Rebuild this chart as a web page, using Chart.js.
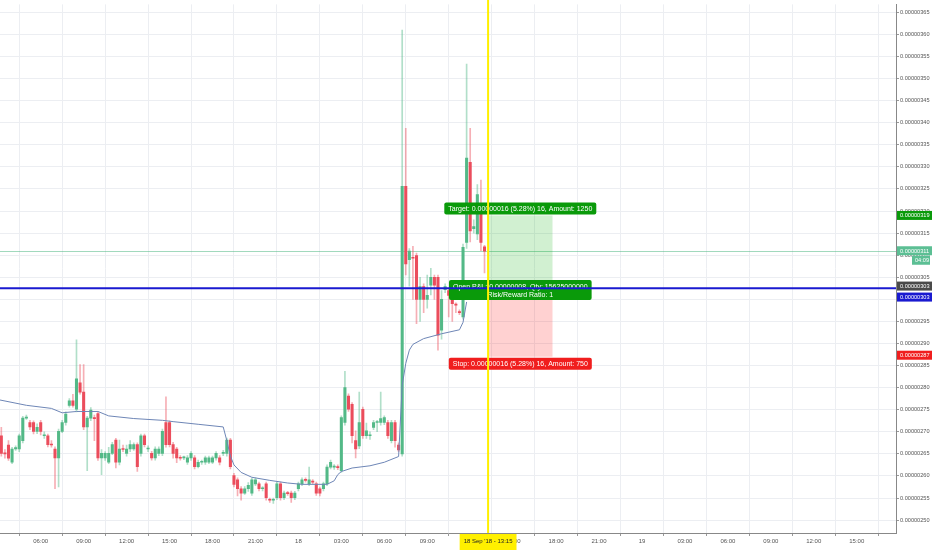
<!DOCTYPE html>
<html>
<head>
<meta charset="utf-8">
<script src="https://cdn.jsdelivr.net/npm/chart.js@4.4.0/dist/chart.umd.min.js"></script>
<style>
  html, body { margin: 0; padding: 0; background: #fff; }
</style>
</head>
<body>
<canvas id="grafico" width="932" height="550"></canvas>
<script>
// 15 min bars, bar index 0 = 17 Sep 00:00, prices in units of 0.00000001
const firstBar = 13;

const opens = [
  269.1,265.1,267.0,263.1,266.1,266.1,268.0,273.1,272.1,272.1,
  270.1,272.1,269.1,269.1,267.1,266.1,264.1,270.1,272.1,276.0,
  277.0,275.1,281.1,279.0,271.1,273.1,273.1,274.1,264.1,264.1,
  263.1,265.1,268.1,263.1,266.1,265.1,266.1,266.1,267.1,265.1,
  269.1,266.1,265.1,264.1,265.1,265.1,272.1,272.1,267.1,266.1,
  264.1,264.1,263.1,264.1,264.1,262.1,263.1,263.1,263.1,263.1,
  264.1,264.1,265.1,265.1,268.1,260.1,259.1,257.1,256.1,257.1,
  256.1,258.2,258.2,257.1,258.2,254.6,254.5,255.1,258.2,255.1,
  256.1,256.1,255.1,257.1,258.2,259.1,258.2,258.7,258.2,257.1,
  257.1,258.2,262.0,262.0,262.0,261.2,272.1,278.1,276.2,268.0,
  266.8,275.1,269.1,269.1,271.0,272.1,272.1,272.1,272.1,268.0,
  272.1,267.0,265.0,325.6,309.0,309.5,309.9,300.0,302.9,300.0,
  303.2,305.0,305.0,293.0,302.2,302.0,302.0,298.8,297.2,296.0,
  312.9,331.0,316.0,314.8,321.5,311.9
];
const highs = [
  271.0,266.0,268.0,266.5,266.8,269.5,273.5,273.8,272.6,272.5,
  271.8,272.6,270.0,269.5,268.0,266.6,270.6,272.6,274.5,277.5,
  278.5,290.8,285.2,285.2,273.5,275.5,273.8,274.5,266.0,265.5,
  266.5,267.6,268.5,268.1,267.0,267.0,268.0,267.5,267.5,269.5,
  269.5,266.8,265.6,266.6,266.6,270.6,277.9,272.5,267.6,266.5,
  264.6,264.5,264.6,265.5,264.6,263.6,263.6,264.5,264.5,264.5,
  265.5,264.6,265.8,268.6,268.5,260.6,259.6,257.6,257.6,258.5,
  259.5,259.6,258.6,257.6,258.6,255.0,255.0,258.6,258.6,256.6,
  256.5,256.6,256.5,258.6,259.6,259.6,262.0,259.2,258.6,257.5,
  258.6,262.5,263.6,262.6,262.5,273.6,283.7,278.6,276.6,270.2,
  279.0,275.6,272.0,270.0,272.6,272.6,279.0,273.6,272.6,272.6,
  272.6,267.5,361.0,338.7,311.5,312.0,310.5,305.0,303.5,305.5,
  307.0,305.5,305.5,302.0,303.5,302.5,302.5,299.2,297.6,312.5,
  353.3,338.7,318.0,326.0,327.0,312.2
];
const lows = [
  264.5,264.0,263.5,262.8,265.8,265.5,267.5,272.8,270.5,269.5,
  269.6,269.3,268.5,266.6,266.5,257.1,257.5,269.8,271.5,275.6,
  275.6,274.5,278.5,270.5,261.2,272.5,268.0,263.5,260.3,263.5,
  262.8,264.8,261.8,262.5,265.5,264.5,265.5,265.8,261.0,264.5,
  266.6,265.5,263.6,263.6,264.6,264.6,266.5,266.6,264.0,263.0,
  263.6,263.7,262.6,263.5,261.6,261.8,262.6,262.6,262.8,262.8,
  263.6,262.5,264.6,264.5,261.6,257.5,255.5,254.5,255.8,256.5,
  255.6,257.8,256.6,256.6,254.5,254.0,253.8,254.6,254.5,254.6,
  255.6,254.0,254.6,256.6,257.8,258.6,257.8,258.2,255.6,255.5,
  256.6,257.8,261.6,261.5,261.4,260.8,271.5,274.6,267.5,264.1,
  266.2,268.5,268.5,268.3,270.5,270.0,271.5,271.6,268.5,267.5,
  266.5,265.5,264.5,305.5,303.0,300.0,294.5,295.0,297.0,298.0,
  301.0,300.0,288.5,291.0,301.5,296.0,295.0,297.0,296.5,295.5,
  311.5,313.0,315.0,313.5,311.0,306.0
];
const closes = [
  265.1,265.0,264.0,266.1,266.4,269.1,273.1,273.3,271.1,270.1,
  271.0,270.1,269.2,267.1,267.0,264.1,270.1,272.1,274.0,277.0,
  276.0,282.0,279.0,271.1,273.1,274.9,273.0,264.1,265.1,265.1,
  265.1,267.1,263.1,266.1,266.0,266.1,267.1,267.1,262.1,269.1,
  267.1,266.2,264.1,266.1,266.1,270.1,267.1,267.1,265.1,264.1,
  264.0,264.1,264.1,265.1,262.1,263.1,263.2,264.1,264.1,264.1,
  265.1,263.1,265.3,268.1,262.1,258.1,257.1,256.1,257.1,257.9,
  259.1,259.1,257.1,257.2,255.1,254.5,254.6,258.2,255.1,256.1,
  256.0,255.1,256.1,258.2,259.1,259.0,259.1,258.6,256.1,256.1,
  258.2,262.0,263.1,262.1,261.9,273.2,280.0,275.1,269.1,266.1,
  272.1,269.1,270.2,269.2,272.1,272.2,273.0,273.2,269.1,272.1,
  268.0,265.9,325.6,308.0,310.9,309.3,300.0,302.9,300.0,300.9,
  305.0,303.2,291.9,300.0,302.9,300.9,299.0,298.7,297.0,311.8,
  332.0,315.5,316.5,323.7,312.9,310.9
];

// averaging line drawn over the candles
const vwapIdx = [12, 20, 27, 30, 34, 40, 43, 50, 58, 61, 68, 75, 76, 77, 78, 80, 83, 88, 93, 97,
  104, 106, 107, 108, 111, 116, 120, 124, 125, 126, 127, 128, 131, 136, 141, 142, 143];
const vwapVal = [277.3, 276.0, 275.3, 274.3, 274.6, 274.6, 273.6, 273.0, 272.6, 272.3, 271.7, 271.1,
  268.0, 264.5, 262.5, 260.8, 259.7, 259.0, 258.4, 258.1, 258.1, 258.9, 260.3, 261.0, 261.8, 262.3,
  263.1, 264.4, 280.5, 285.5, 288.5, 289.8, 291.1, 292.2, 293.1, 294.8, 299.4];

// long position tool + markers
const entryPrice = 303;
const targetPrice = 319;
const stopPrice = 287;
const lastPrice = 311;
const blueLinePrice = 302.5;
const posStart = 149;
const posEnd = 167;
const crosshairIdx = 149;
const targetText = 'Target: 0.00000016 (5.28%) 16, Amount: 1250';
const openText = 'Open P&L: 0.00000008, Qty: 15625000000';
const ratioText = 'Risk/Reward Ratio: 1';
const stopText = 'Stop: 0.00000016 (5.28%) 16, Amount: 750';
const crosshairText = "18 Sep '18 - 13:15";
const countdownText = '04:09';

const fmt = v => (v / 1e8).toFixed(8);
const FONT = '"Liberation Sans", Arial, sans-serif';

const bodies = [], wicks = [], bodyCol = [], wickCol = [];
opens.forEach((o, k) => {
  const i = firstBar + k;
  const c = closes[k];
  bodies.push({ x: i, y: [o, c] });
  wicks.push({ x: i, y: [lows[k], highs[k]] });
  const up = c >= o;
  bodyCol.push(up ? '#53b987' : '#eb4d5c');
  wickCol.push(up ? 'rgba(83,185,135,0.45)' : 'rgba(235,77,92,0.45)');
});
const vwap = vwapIdx.map((i, k) => ({ x: i, y: vwapVal[k] }));

function tag(ctx, text, cx, top, h, bg) {
  ctx.font = '7px ' + FONT;
  const w = ctx.measureText(text).width + 8;
  ctx.fillStyle = bg;
  ctx.beginPath();
  ctx.roundRect(cx - w / 2, top, w, h, 2);
  ctx.fill();
  ctx.fillStyle = '#fff';
  ctx.textAlign = 'center';
  ctx.textBaseline = 'middle';
  ctx.fillText(text, cx, top + h / 2 + 0.5);
}

function axisTag(ctx, text, left, cy, right, bg) {
  ctx.fillStyle = bg;
  ctx.fillRect(left, cy - 4.5, right - left, 9);
  ctx.fillStyle = '#fff';
  ctx.font = '5.6px ' + FONT;
  ctx.textAlign = 'left';
  ctx.textBaseline = 'middle';
  ctx.fillText(text, left + 3, cy + 0.5);
}

const overlay = {
  id: 'overlay',
  beforeDatasetsDraw(chart) {
    const { ctx, chartArea: a, scales: { x, y } } = chart;
    ctx.save();
    // last price line
    const yl = Math.round(y.getPixelForValue(lastPrice)) + 0.5;
    ctx.strokeStyle = 'rgba(83,185,135,0.55)';
    ctx.lineWidth = 1;
    ctx.beginPath(); ctx.moveTo(a.left, yl); ctx.lineTo(a.right, yl); ctx.stroke();
    // position zones
    const x0 = x.getPixelForValue(posStart), x1 = x.getPixelForValue(posEnd);
    const yT = y.getPixelForValue(targetPrice), yE = y.getPixelForValue(entryPrice), yS = y.getPixelForValue(stopPrice);
    ctx.fillStyle = 'rgba(0,170,0,0.18)';
    ctx.fillRect(x0, yT, x1 - x0, yE - yT);
    ctx.fillStyle = 'rgba(255,0,0,0.18)';
    ctx.fillRect(x0, yE, x1 - x0, yS - yE);
    ctx.restore();
  },
  afterDatasetsDraw(chart) {
    const { ctx, chartArea: a, scales: { x, y } } = chart;
    ctx.save();
    ctx.beginPath(); ctx.rect(a.left, a.top, a.width, a.height); ctx.clip();
    const cx = (x.getPixelForValue(posStart) + x.getPixelForValue(posEnd)) / 2;
    const yT = y.getPixelForValue(targetPrice), yE = y.getPixelForValue(entryPrice), yS = y.getPixelForValue(stopPrice);
    tag(ctx, targetText, cx, yT - 13, 12, '#0a9a0a');
    tag(ctx, stopText, cx, yS + 1, 12, '#f01e1e');
    // open P&L box (two lines)
    ctx.font = '7px ' + FONT;
    const w = ctx.measureText(openText).width + 8;
    ctx.fillStyle = '#0a9a0a';
    ctx.beginPath(); ctx.roundRect(cx - w / 2, yE - 6, w, 20, 2); ctx.fill();
    ctx.fillStyle = '#fff'; ctx.textAlign = 'center'; ctx.textBaseline = 'middle';
    ctx.fillText(openText, cx, yE + 0.5);
    ctx.fillText(ratioText, cx, yE + 9);
    // blue horizontal line
    const yb = y.getPixelForValue(blueLinePrice);
    ctx.strokeStyle = '#1a1ad0';
    ctx.lineWidth = 2;
    ctx.beginPath(); ctx.moveTo(a.left, yb); ctx.lineTo(a.right, yb); ctx.stroke();
    ctx.restore();
  },
  afterDraw(chart) {
    const { ctx, chartArea: a, scales: { x, y } } = chart;
    const W = chart.width, H = chart.height;
    ctx.save();
    // crosshair
    const xc = x.getPixelForValue(crosshairIdx);
    ctx.strokeStyle = '#fff000';
    ctx.lineWidth = 2;
    ctx.beginPath(); ctx.moveTo(xc, 0); ctx.lineTo(xc, a.bottom); ctx.stroke();
    ctx.font = '6px ' + FONT;
    const tw = ctx.measureText(crosshairText).width + 8;
    ctx.fillStyle = '#fff000';
    ctx.fillRect(xc - tw / 2, a.bottom + 1, tw, H - a.bottom - 1);
    ctx.fillStyle = '#222';
    ctx.textAlign = 'center'; ctx.textBaseline = 'middle';
    ctx.fillText(crosshairText, xc, a.bottom + 8.5);
    // price scale tags
    const r = a.right + 1;
    axisTag(ctx, fmt(targetPrice), r, y.getPixelForValue(targetPrice), W, '#0a9a0a');
    const yl = y.getPixelForValue(lastPrice);
    axisTag(ctx, fmt(lastPrice), r, yl, W, '#5cbf94');
    axisTag(ctx, countdownText, W - 20, yl + 9.5, W - 2, '#5cbf94');
    const ye = y.getPixelForValue(entryPrice);
    axisTag(ctx, fmt(entryPrice), r, ye, W, '#4a4a4a');
    axisTag(ctx, fmt(entryPrice), r, ye + 11, W, '#1a1ad0');
    axisTag(ctx, fmt(stopPrice), r, y.getPixelForValue(stopPrice) - 1.5, W, '#f01e1e');
    ctx.restore();
  }
};

new Chart(document.getElementById('grafico'), {
  type: 'bar',
  data: {
    datasets: [
      {
        type: 'line',
        data: vwap,
        borderColor: '#6e86b6',
        borderWidth: 1,
        pointRadius: 0,
        tension: 0,
        order: 0
      },
      {
        data: bodies,
        backgroundColor: bodyCol,
        barThickness: 2.4,
        minBarLength: 1,
        grouped: false,
        order: 1
      },
      {
        data: wicks,
        backgroundColor: wickCol,
        barThickness: 1,
        grouped: false,
        order: 2
      }
    ]
  },
  options: {
    responsive: false,
    animation: false,
    devicePixelRatio: 1,
    layout: { padding: 0 },
    plugins: { legend: { display: false }, tooltip: { enabled: false } },
    scales: {
      x: {
        type: 'linear',
        min: 12.63,
        max: 262.97,
        offset: false,
        grid: { color: '#eceef2', tickColor: '#999', tickLength: 3 },
        border: { color: '#888' },
        ticks: {
          stepSize: 12,
          includeBounds: false,
          autoSkip: false,
          maxRotation: 0,
          padding: 2,
          color: '#555',
          font: { size: 6, family: FONT },
          callback: v => {
            if (v % 96 === 0) return String(17 + v / 96);
            const h = (v % 96) / 4;
            return String(h).padStart(2, '0') + ':00';
          }
        },
        afterFit: s => { s.height = 17; }
      },
      y: {
        position: 'right',
        min: 247.08,
        max: 366.8,
        grid: { color: '#eceef2', tickColor: '#999', tickLength: 3 },
        border: { color: '#888' },
        ticks: {
          stepSize: 5,
          includeBounds: false,
          padding: 1,
          color: '#555',
          font: { size: 5.6, family: FONT },
          callback: v => fmt(v)
        },
        afterFit: s => { s.width = 36; }
      }
    }
  },
  plugins: [overlay]
});
</script>
</body>
</html>
